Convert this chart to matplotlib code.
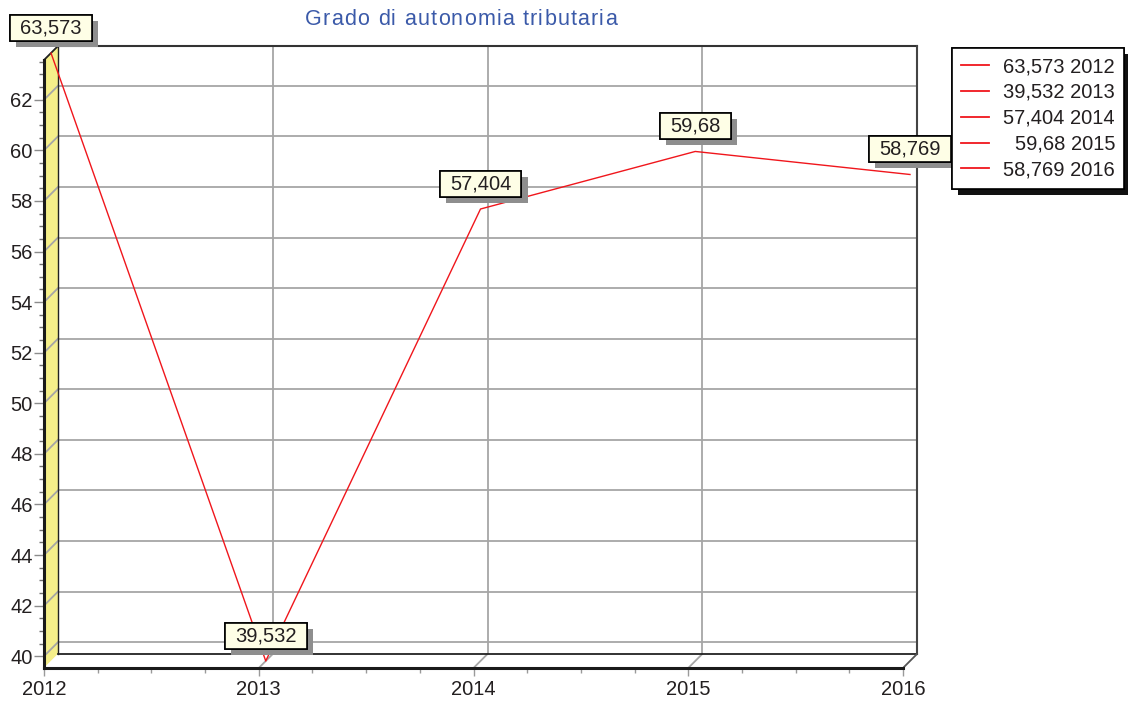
import matplotlib
matplotlib.use('Agg')
import matplotlib.pyplot as plt
import matplotlib.transforms as mtransforms
import matplotlib.patheffects as pe
from matplotlib.patches import Polygon
from matplotlib.lines import Line2D
from matplotlib.ticker import MultipleLocator
from matplotlib import font_manager
from matplotlib.ft2font import FT2Font

# data
years = [2012, 2013, 2014, 2015, 2016]
values = [63.573, 39.532, 57.404, 59.68, 58.769]
value_labels = ['63,573', '39,532', '57,404', '59,68', '58,769']
title = 'Grado di autonomia tributaria'

W, H, DPI = 1128, 702, 100
DX, DY = 14, 14          # depth of the 3d box in pixels
RED = '#f0161c'
GRID = '#a6a6a6'
WALL = '#f5ef8a'
TXT = '#231f20'
FS = 14.5

plt.rcParams['font.family'] = ['Liberation Sans', 'DejaVu Sans']

fig = plt.figure(figsize=(W / DPI, H / DPI), dpi=DPI)
fig.patch.set_facecolor('white')
ax = fig.add_axes([44 / W, 34 / H, 859 / W, 608 / H])
ax.set_facecolor('none')
x0, x1 = min(years), max(years)
y0, y1 = min(values), max(values)
ax.set_xlim(x0, x1)
ax.set_ylim(y0, y1)

ax.yaxis.set_major_locator(MultipleLocator(2))
ax.yaxis.set_minor_locator(MultipleLocator(0.5))
ax.yaxis.set_major_formatter('{x:.0f}')
ax.set_xticks(years, [str(y) for y in years])
ax.xaxis.set_minor_locator(MultipleLocator(0.25))
ax.tick_params(axis='y', which='major', length=7.2, width=1, color='#8c8c8c', pad=1,
               labelsize=FS, labelcolor=TXT)
ax.tick_params(axis='y', which='minor', length=3.6, width=1, color='#707070')
ax.tick_params(axis='x', which='major', length=5.5, width=1, color='#9a9a9a', pad=3,
               labelsize=FS, labelcolor=TXT)
ax.tick_params(axis='x', which='minor', length=3.6, width=1, color='#9a9a9a')
for s in ('top', 'right'):
    ax.spines[s].set_visible(False)
for s in ('left', 'bottom'):
    ax.spines[s].set_linewidth(2.2)
    ax.spines[s].set_color('#1a1a1a')
    ax.spines[s].set_zorder(5)


def depth(z):
    return ax.transData + mtransforms.ScaledTranslation(z * DX / DPI, z * DY / DPI,
                                                        fig.dpi_scale_trans)


def px(x, y, z):
    a, b = ax.transData.transform((x, y))
    return (a + z * DX, b + z * DY)


ident = mtransforms.IdentityTransform()
ygrid = [t for t in ax.get_yticks() if y0 <= t <= y1]
xgrid = [t for t in years if x0 < t < x1]

# back wall
back = depth(1)
ax.add_patch(Polygon([(x0, y0), (x1, y0), (x1, y1), (x0, y1)], closed=True,
                     transform=back, fc='white', ec='none', zorder=0, clip_on=False))
for t in ygrid:
    ax.plot([x0, x1], [t, t], transform=back, color=GRID, lw=1.3, zorder=1, clip_on=False)
for t in xgrid:
    ax.plot([t, t], [y0, y1], transform=back, color=GRID, lw=1.3, zorder=1, clip_on=False)

# left wall and floor
ax.add_patch(Polygon([px(x0, y0, 0), px(x0, y1, 0), px(x0, y1, 1), px(x0, y0, 1)],
                     closed=True, transform=ident, fc=WALL, ec='none', zorder=1, clip_on=False))
ax.add_patch(Polygon([px(x0, y0, 0), px(x1, y0, 0), px(x1, y0, 1), px(x0, y0, 1)],
                     closed=True, transform=ident, fc='white', ec='none', zorder=1, clip_on=False))
for t in ygrid:
    a, b = px(x0, t, 0), px(x0, t, 1)
    ax.add_line(Line2D([a[0], b[0]], [a[1], b[1]], transform=ident, color=GRID, lw=1.3,
                       zorder=2, clip_on=False))
for t in xgrid:
    a, b = px(t, y0, 0), px(t, y0, 1)
    ax.add_line(Line2D([a[0], b[0]], [a[1], b[1]], transform=ident, color=GRID, lw=1.3,
                       zorder=2, clip_on=False))

# box edges
edges = [((x0, y1, 0), (x0, y1, 1), '#222222', 1.3),
         ((x0, y0, 1), (x0, y1, 1), '#222222', 1.0),
         ((x0, y1, 1), (x1, y1, 1), '#333333', 1.5),
         ((x1, y0, 1), (x1, y1, 1), '#444444', 1.5),
         ((x0, y0, 1), (x1, y0, 1), '#222222', 1.3),
         ((x1, y0, 0), (x1, y0, 1), '#555555', 1.3)]
for p, q, c, lw in edges:
    a, b = px(*p), px(*q)
    ax.add_line(Line2D([a[0], b[0]], [a[1], b[1]], transform=ident, color=c, lw=lw,
                       zorder=3, clip_on=False))

# series, drawn halfway into the depth
mid = depth(0.5)
ax.plot(years, values, transform=mid, color=RED, lw=1.0, zorder=4, clip_on=False)

for yr, v, lab in zip(years, values, value_labels):
    t = ax.annotate(lab, xy=(yr, v), xycoords=mid, xytext=(0, 11.5),
                    textcoords='offset points', ha='center', va='bottom', fontsize=FS,
                    color=TXT, annotation_clip=False, zorder=7,
                    bbox=dict(boxstyle='square,pad=0.5', mutation_aspect=0.35,
                              fc='#fefee6', ec='black', lw=1.2))
    t.get_bbox_patch().set_path_effects([
        pe.withSimplePatchShadow(offset=(4.5, -4.5), shadow_rgbFace='#8e8e8e', alpha=1),
        pe.Normal()])

# title with letter spacing
fp = font_manager.FontProperties(family='Liberation Sans')
ft = FT2Font(font_manager.findfont(fp))
TS = 15.5
ft.set_size(TS, DPI)
adv = [ft.load_char(ord(c)).linearHoriAdvance / 65536 for c in title]
tx0, tx1 = 305, 617
sp = (tx1 - tx0 - sum(adv)) / (len(title) - 1)
xc = tx0
for c, a in zip(title, adv):
    fig.text(xc / W, 1 - 25 / H, c, ha='left', va='baseline', fontsize=TS, color='#3b5aa9')
    xc += a + sp

# legend
handles = [Line2D([], [], color=RED, lw=1.3) for _ in years]
labels = [f'{lab} {yr}' for lab, yr in zip(value_labels, years)]
leg = fig.legend(handles, labels, loc='upper left', bbox_to_anchor=(952 / W, 1 - 48 / H),
                 frameon=True, fancybox=False, framealpha=1, edgecolor='black',
                 fontsize=FS, handlelength=1.4, handletextpad=0.7, labelspacing=0.34,
                 borderpad=0.45, borderaxespad=0)
leg.get_frame().set_linewidth(1.2)
leg.legendPatch.set_path_effects([
    pe.withSimplePatchShadow(offset=(4.5, -4.5), shadow_rgbFace='#111111', alpha=1),
    pe.Normal()])
for t in leg.get_texts():
    t.set_color(TXT)

fig.canvas.draw()
r = fig.canvas.get_renderer()
widths = [t.get_window_extent(r).width for t in leg.get_texts()]
for t, w in zip(leg.get_texts(), widths):
    t.set_position((max(widths) - w, 0))

fig.savefig('out.png', dpi=DPI)
